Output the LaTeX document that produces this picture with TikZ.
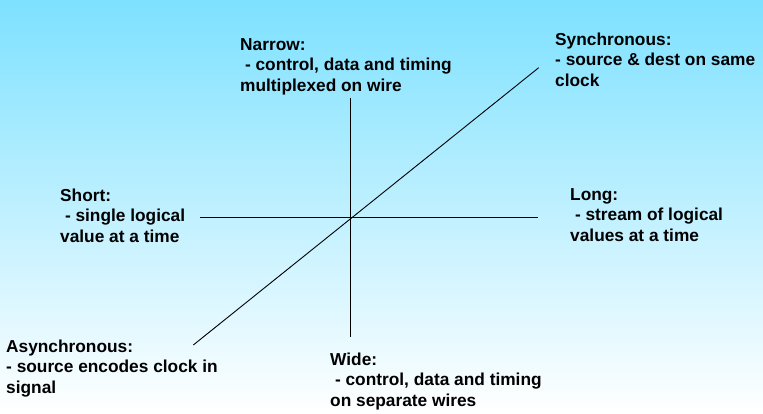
\documentclass[tikz,border=0pt]{standalone}
\usepackage{fontspec}
\setmainfont{Liberation Sans}
\usepackage{tikz}
\usetikzlibrary{positioning}
\usepackage{xcolor}
\definecolor{skytop}{RGB}{125,225,255}

\begin{document}
\begin{tikzpicture}[x=1pt, y=-1pt,
    lbl/.style={anchor=base west, align=left, inner sep=0pt,
        font=\fontsize{17.3pt}{20.5pt}\selectfont\bfseries},
    axis/.style={line width=0.9pt, black}]
    % 背景
    \shade[top color=skytop, bottom color=white] (0, 0) rectangle (763, 413);
    \useasboundingbox (0, 0) rectangle (763, 413);

    % 轴端点
    \coordinate (n) at (350.7, 97.7); \coordinate (s) at (350.7, 336.7);
    \coordinate (w) at (200, 217.5); \coordinate (e) at (538.3, 217.5);
    \coordinate (ne) at (538.7, 67.7); \coordinate (sw) at (193.3, 345);

    % 轴线
    \draw[axis] (n) -- (s);
    \draw[axis] (w) -- (e);
    \draw[axis] (sw) -- (ne);

    % 标签（基线为最后一行）
    \node[lbl] (narrow) at (240, 91) {Narrow:\\~- control, data and timing\\multiplexed on wire};
    \node[lbl] (sync) at (555, 86) {Synchronous:\\- source \& dest on same\\clock};
    \node[lbl] (short) at (60, 242) {Short:\\~- single logical\\value at a time};
    \node[lbl] (long) at (570, 241) {Long:\\~- stream of logical\\values at a time};
    \node[lbl] (async) at (6, 393) {Asynchronous:\\- source encodes clock in\\signal};
    \node[lbl] (wide) at (330, 406) {Wide:\\~- control, data and timing\\on separate wires};
\end{tikzpicture}
\end{document}
